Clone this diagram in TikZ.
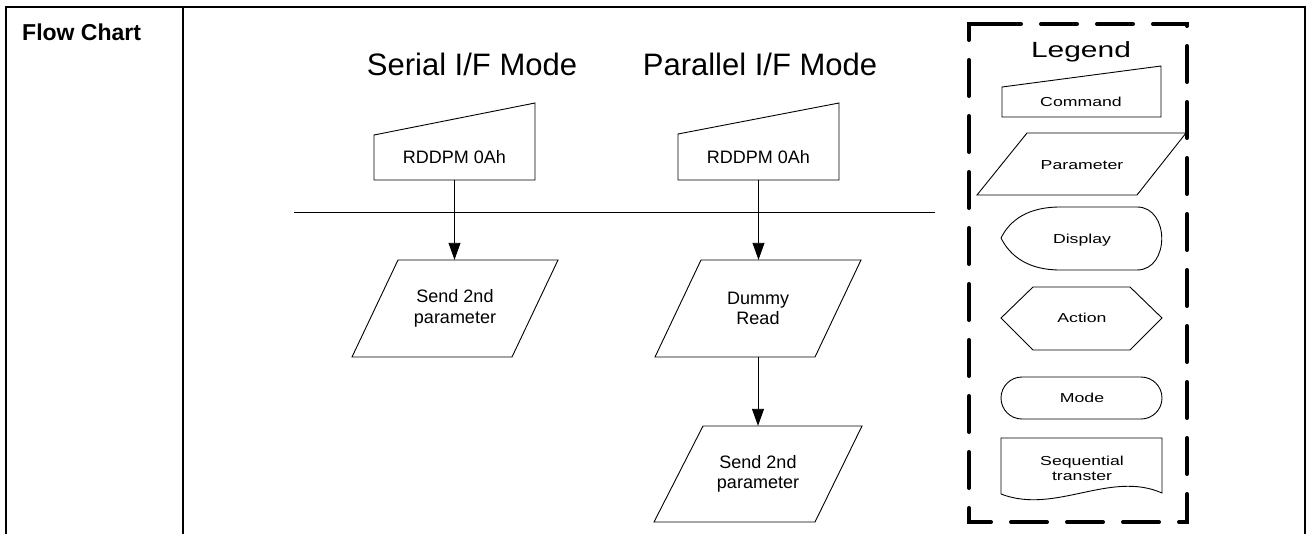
\documentclass[tikz,border=0pt]{standalone}
\usepackage{fontspec}
\setmainfont{Liberation Sans}
\newfontfamily\legfont[FakeStretch=1.36]{Liberation Sans}
\usetikzlibrary{arrows.meta}
\begin{document}
\begin{tikzpicture}[x=1pt,y=-1pt,
  outline/.style={draw=black, line width=0.9pt},
  border/.style={line width=2pt},
  conn/.style={line width=0.9pt, -{Triangle[length=17pt,width=12pt]}},
  txt/.style={inner sep=0pt, align=center, font=\fontsize{18}{20.5}\selectfont},
  leg/.style={inner sep=0pt, align=center, font=\legfont\fontsize{13}{15}\selectfont},
  ttl/.style={inner sep=0pt, anchor=base, font=\fontsize{31}{36}\selectfont},
]
\useasboundingbox (0,0) rectangle (1309,533);
% table
\draw[border] (6,534) -- (6,7) -- (1305,7) -- (1305,534);
\draw[border] (183,7) -- (183,534);
\node[inner sep=0pt, anchor=base west, font=\fontsize{23}{27}\selectfont\bfseries] (fc) at (22,40) {Flow Chart};
% titles
\node[ttl] (ts) at (472,75) {Serial I/F Mode};
\node[ttl] (tp) at (760,75) {Parallel I/F Mode};
% separator
\coordinate (hl1) at (294,212);
\coordinate (hl2) at (935,212);
\draw[line width=0.9pt] (hl1) -- (hl2);
% serial column
\node[txt, minimum width=161pt, minimum height=45pt] (c1) at (454.5,157.5) {RDDPM 0Ah};
\draw[outline] (374,135) -- (535,103) -- (535,180) -- (374,180) -- cycle;
\node[txt, minimum width=206pt, minimum height=97pt] (p1) at (455,308.5) {Send 2nd\\parameter};
\draw[outline] (398,260) -- (558,260) -- (512,357) -- (352,357) -- cycle;
\draw[conn] (c1.south) -- (c1.south |- p1.north);
% parallel column
\node[txt, minimum width=161pt, minimum height=45pt] (c2) at (758.5,157.5) {RDDPM 0Ah};
\draw[outline] (678,134) -- (839,103) -- (839,180) -- (678,180) -- cycle;
\node[txt, minimum width=206pt, minimum height=97pt] (p2) at (758,308.5) {Dummy\\Read};
\draw[outline] (701,260) -- (861,260) -- (815,357) -- (655,357) -- cycle;
\node[txt, minimum width=208pt, minimum height=96pt] (p3) at (758,474) {Send 2nd\\parameter};
\draw[outline] (703,426) -- (862,426) -- (815,522) -- (654,522) -- cycle;
\draw[conn] (c2.south) -- (c2.south |- p2.north);
\draw[conn] (p2.south) -- (p3.north);
% legend box
\draw[line width=4pt, line cap=round, dash pattern=on 36pt off 20pt] (985,24) -- (1187,24) -- (1187,522) -- (969,522) -- (969,24) -- (985,24);
\node[inner sep=0pt, anchor=base, font=\legfont\fontsize{22}{26}\selectfont] (lt) at (1081,57) {Legend};
% command
\draw[outline] (1002,87) -- (1161,66) -- (1161,117) -- (1002,117) -- cycle;
\node[leg, anchor=base] (lcmd) at (1081,106) {Command};
% parameter
\draw[outline] (1027,133) -- (1186,133) -- (1137,195) -- (977,195) -- cycle;
\node[leg, anchor=base] (lpar) at (1082,169) {Parameter};
% display
\draw[outline] (1001,238) .. controls (1010,220) and (1028,207) .. (1060,207) -- (1137,207)
  .. controls (1170,207) and (1170,270) .. (1137,270) -- (1060,270)
  .. controls (1028,270) and (1010,256) .. cycle;
\node[leg, anchor=base] (ldisp) at (1082,243) {Display};
% action
\draw[outline] (1001,318) -- (1033,287) -- (1130,287) -- (1162,318) -- (1130,350) -- (1033,350) -- cycle;
\node[leg, anchor=base] (lact) at (1082,322.5) {Action};
% mode
\draw[outline, rounded corners=21pt] (1001,377) rectangle (1162,419);
\node[leg, anchor=base] (lmode) at (1082,402.5) {Mode};
% sequential transfer
\draw[outline] (1001,494) -- (1001,438) -- (1162,438) -- (1162,493)
  .. controls (1110,470) and (1055,515) .. (1001,494);
\node[leg] (lseq) at (1082,468) {Sequential\\transter};
\end{tikzpicture}
\end{document}
